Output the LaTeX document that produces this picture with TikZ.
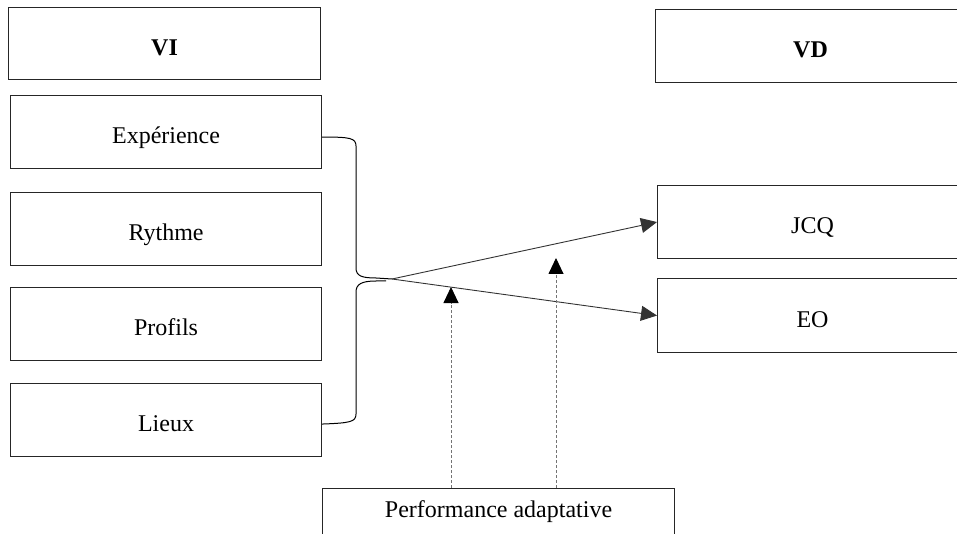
\documentclass[tikz,border=0pt]{standalone}
\usepackage{fontspec}
\setmainfont{Liberation Serif}
\usetikzlibrary{arrows.meta}
\begin{document}
\begin{tikzpicture}[x=1pt,y=-1pt,
  box/.style={draw=black!85,line width=1.1pt,inner sep=0pt,anchor=north west,
    text height=23pt,text depth=0pt,font=\fontsize{24}{28}\selectfont},
  link/.style={draw=black!80,line width=0.9pt,-{Triangle[length=16pt,width=15pt]}},
  hint/.style={draw=black!55,line width=0.9pt,dash pattern=on 3pt off 2pt,
    -{Triangle[length=16pt,width=15pt,fill=black,color=black]}},
  brace/.style={draw=black,line width=1pt}]
\useasboundingbox (0,0) rectangle (957,534);
\clip (0,0) rectangle (957,534);

% left column: independent variables
\node[box,minimum width=312pt,minimum height=72pt,font=\fontsize{24}{28}\selectfont\bfseries] (VI) at (8,7) {VI};
\node[box,minimum width=311pt,minimum height=73pt] (exp) at (10,95) {Expérience};
\node[box,minimum width=311pt,minimum height=73pt] (ryt) at (10,192) {Rythme};
\node[box,minimum width=311pt,minimum height=73pt] (pro) at (10,287) {Profils};
\node[box,minimum width=311pt,minimum height=73pt] (lie) at (10,383) {Lieux};

% right column: dependent variables
\node[box,minimum width=310pt,minimum height=73pt,font=\fontsize{24}{28}\selectfont\bfseries] (VD) at (655,9) {VD};
\node[box,minimum width=310pt,minimum height=73pt] (jcq) at (657,185) {JCQ};
\node[box,minimum width=310pt,minimum height=74pt] (eo) at (657,278) {EO};

% moderator
\node[box,minimum width=352pt,minimum height=48pt,text height=16pt,text depth=6pt] (perf) at (322,488) {Performance adaptative};

% brace grouping the four independent variables
\coordinate (tip) at (392,279);
\draw[brace] ([yshift=-5pt]exp.east) .. controls (350,137) and (356,138) .. (356,146)
  -- (356,268) .. controls (356,276) and (362,278) .. (376,278) -- (tip);
\draw[brace] ([yshift=-4pt]lie.east) .. controls (350,423) and (356,422) .. (356,414)
  -- (356,292) .. controls (356,284) and (362,281) .. (376,281) -- (386,281);

% effects
\draw[link] (tip) -- (jcq.west);
\draw[link] (tip) -- (eo.west);

% moderating effects
\coordinate (m1) at (451,287);
\coordinate (m2) at (556,258);
\draw[hint] (perf.north -| m1) -- (m1);
\draw[hint] (perf.north -| m2) -- (m2);
\end{tikzpicture}
\end{document}
